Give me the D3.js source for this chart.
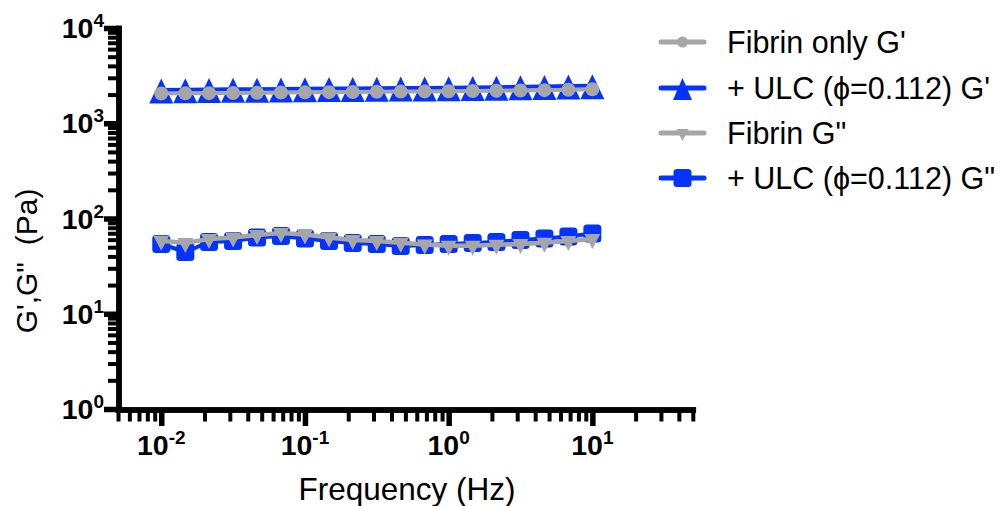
<!DOCTYPE html>
<html>
<head>
<meta charset="utf-8">
<script src="https://cdn.jsdelivr.net/npm/d3@7"></script>
<style>
  html, body { margin: 0; padding: 0; background: #fff; }
  svg { display: block; font-family: "Liberation Sans", Arial, Helvetica, sans-serif; }
  text { white-space: pre; }
</style>
</head>
<body>
<svg id="chart" width="1002" height="506"></svg>
<script>
// Oscillatory frequency sweep: storage (G') and loss (G'') moduli
const frequencies = [0.01, 0.0147, 0.0215, 0.0316, 0.0464, 0.0681, 0.1, 0.147, 0.215, 0.316,
                     0.464, 0.681, 1, 1.47, 2.15, 3.16, 4.64, 6.81, 10];
const fibrinGp   = [2050, 2060, 2070, 2080, 2090, 2100, 2110, 2120, 2130, 2140,
                    2150, 2160, 2170, 2180, 2195, 2210, 2225, 2245, 2270];
const ulcGp      = [2240, 2250, 2260, 2270, 2280, 2290, 2300, 2310, 2320, 2330,
                    2340, 2350, 2360, 2375, 2390, 2410, 2430, 2455, 2480];
const fibrinGpp  = [58.5, 55.3, 60.9, 63.1, 67.1, 70.4, 67.9, 63.1, 59.5, 58.0,
                    55.6, 53.3, 51.7, 51.7, 52.9, 54.0, 55.6, 58.0, 60.9];
const ulcGpp     = [54.0, 44.5, 56.7, 58.0, 63.1, 65.5, 61.7, 58.0, 55.3, 54.0,
                    51.4, 52.7, 54.0, 55.3, 56.7, 59.5, 61.7, 64.7, 69.6];

const yTickExponents = [0, 1, 2, 3, 4];
const xTickExponents = [-2, -1, 0, 1];
const seriesNames = ["Fibrin only G'", "+ ULC (\u03D5=0.112) G'", "Fibrin G\"", "+ ULC (\u03D5=0.112) G\""];
const xTitle = "Frequency (Hz)";
const yTitle = "G',G\"  (Pa)";

const GREY = "#a6a6a6";
const BLUE = "#0433ff";

const svg = d3.select("#chart");

const x = d3.scaleLog().domain([0.005, 50]).range([118, 692.8]);
const y = d3.scaleLog().domain([1, 10000]).range([409, 28]);

// marker shapes
function triUp(w, h) {
  return `M0,${-h * 0.46}L${w / 2},${h * 0.54}L${-w / 2},${h * 0.54}Z`;
}
function triDown(w, h) {
  return `M${-w / 2},${-h / 3}L${w / 2},${-h / 3}L0,${2 * h / 3}Z`;
}
function roundSquare(s, r) {
  const a = s / 2;
  return `M${-a + r},${-a}H${a - r}Q${a},${-a} ${a},${-a + r}V${a - r}Q${a},${a} ${a - r},${a}` +
         `H${-a + r}Q${-a},${a} ${-a},${a - r}V${-a + r}Q${-a},${-a} ${-a + r},${-a}Z`;
}

// ---- axes ----
const minorY = [];
for (let e = 0; e < 4; e++) for (let m = 2; m <= 9; m++) minorY.push(m * Math.pow(10, e));
const minorX = [];
for (let e = -3; e <= 1; e++) for (let m = 2; m <= 9; m++) {
  const v = m * Math.pow(10, e);
  if (v >= 0.005 && v <= 50) minorX.push(v);
}

function styleAxis(g, width) {
  g.select(".domain").attr("stroke", "#000").attr("stroke-width", 5.5).attr("stroke-linecap", "square");
  g.selectAll(".tick line").attr("stroke", "#000").attr("stroke-width", width);
  g.selectAll(".tick text").remove();
}

const axisLayer = svg.append("g");

axisLayer.append("g").attr("transform", "translate(118.5,0)")
  .call(d3.axisLeft(y).tickValues(minorY).tickSize(10.5).tickSizeOuter(0).tickFormat(""))
  .call(g => styleAxis(g, 4));
axisLayer.append("g").attr("transform", "translate(118.5,0)")
  .call(d3.axisLeft(y).tickValues(yTickExponents.map(e => Math.pow(10, e))).tickSize(14.5).tickSizeOuter(0).tickFormat(""))
  .call(g => styleAxis(g, 5.5));

axisLayer.append("g").attr("transform", "translate(0,409.5)")
  .call(d3.axisBottom(x).tickValues(minorX).tickSize(12).tickSizeOuter(0).tickFormat(""))
  .call(g => styleAxis(g, 4));
axisLayer.append("g").attr("transform", "translate(0,409.5)")
  .call(d3.axisBottom(x).tickValues(xTickExponents.map(e => Math.pow(10, e))).tickSize(16.5).tickSizeOuter(0).tickFormat(""))
  .call(g => styleAxis(g, 5.5));

// power-of-ten tick labels
function powerLabel(sel, exp) {
  sel.append("tspan").text("10");
  sel.append("tspan").attr("font-size", 19).attr("dy", -11).text(String(exp));
}

yTickExponents.forEach(e => {
  const t = svg.append("text")
    .attr("x", 104).attr("y", y(Math.pow(10, e)) + 10)
    .attr("text-anchor", "end").attr("font-weight", "bold").attr("font-size", 28.5);
  powerLabel(t, e);
});
xTickExponents.forEach(e => {
  const t = svg.append("text")
    .attr("x", x(Math.pow(10, e))).attr("y", 455)
    .attr("text-anchor", "middle").attr("font-weight", "bold").attr("font-size", 28.5);
  powerLabel(t, e);
});

// axis titles
svg.append("text").attr("x", 407).attr("y", 500).attr("text-anchor", "middle")
  .attr("font-size", 31.5).text(xTitle);
svg.append("text").attr("transform", "translate(37,261) rotate(-90)").attr("text-anchor", "middle")
  .attr("font-size", 30).text(yTitle);

// ---- data ----
const line = d3.line().x(d => x(d[0])).y(d => y(d[1]));
const pairs = vals => frequencies.map((f, i) => [f, vals[i]]);

function drawSeries(vals, color, lineWidth, shape) {
  const g = svg.append("g");
  g.append("path").datum(pairs(vals)).attr("d", line)
    .attr("fill", "none").attr("stroke", color).attr("stroke-width", lineWidth);
  g.selectAll("path.m").data(pairs(vals)).join("path").attr("class", "m")
    .attr("transform", d => `translate(${x(d[0])},${y(d[1])})`)
    .attr("d", shape).attr("fill", color);
}

drawSeries(ulcGpp, BLUE, 4, roundSquare(18, 3.5));
drawSeries(fibrinGpp, GREY, 4.5, triDown(16, 15));
drawSeries(ulcGp, BLUE, 4, triUp(24, 25));
drawSeries(fibrinGp, GREY, 4, d3.symbol(d3.symbolCircle, Math.PI * 7 * 7)());

// ---- legend ----
const legendShapes = [
  { color: GREY, shape: d3.symbol(d3.symbolCircle, Math.PI * 5.5 * 5.5)() },
  { color: BLUE, shape: triUp(19, 22) },
  { color: GREY, shape: triDown(12, 12) },
  { color: BLUE, shape: roundSquare(18, 3.5) }
];
const legendRows = [42, 88, 133, 178];
seriesNames.forEach((name, i) => {
  const g = svg.append("g").attr("transform", `translate(0,${legendRows[i]})`);
  g.append("line").attr("x1", 661).attr("x2", 704).attr("y1", 0).attr("y2", 0)
    .attr("stroke", legendShapes[i].color).attr("stroke-width", 5).attr("stroke-linecap", "round");
  g.append("path").attr("transform", "translate(682.5,0)").attr("d", legendShapes[i].shape)
    .attr("fill", legendShapes[i].color);
  g.append("text").attr("x", 727).attr("y", 10.5).attr("font-size", 30.5).text(name);
});
</script>
</body>
</html>
